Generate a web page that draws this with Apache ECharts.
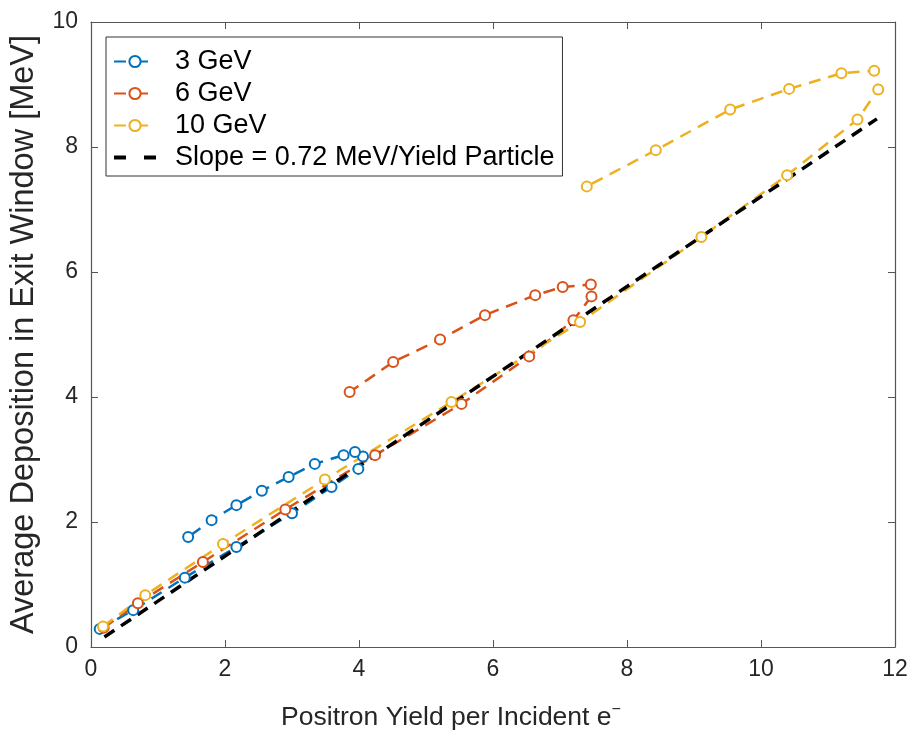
<!DOCTYPE html>
<html>
<head>
<meta charset="utf-8">
<script src="https://cdn.jsdelivr.net/npm/echarts@6.0.0/dist/echarts.min.js"></script>
<style>
  html, body { margin: 0; padding: 0; background: #fff; }
  #main { width: 913px; height: 737px; }
</style>
</head>
<body>
<div id="main"></div>
<script>
// 数据
const gev3X = [0.13, 0.63, 1.40, 2.17, 3.00, 3.59, 3.99, 4.06, 3.94, 3.77, 3.34, 2.95, 2.55, 2.17, 1.80, 1.45];
const gev3Y = [0.29, 0.59, 1.11, 1.60, 2.14, 2.56, 2.85, 3.05, 3.12, 3.07, 2.93, 2.72, 2.50, 2.27, 2.03, 1.76];
const gev6X = [0.19, 0.70, 1.67, 2.90, 4.24, 5.53, 6.54, 7.20, 7.47, 7.46, 7.04, 6.63, 5.88, 5.21, 4.51, 3.86];
const gev6Y = [0.31, 0.70, 1.36, 2.20, 3.07, 3.89, 4.65, 5.23, 5.61, 5.80, 5.76, 5.63, 5.31, 4.92, 4.56, 4.08];
const gev10X = [0.18, 0.81, 1.97, 3.49, 5.38, 7.30, 9.11, 10.39, 11.44, 11.75, 11.69, 11.20, 10.42, 9.54, 8.43, 7.40];
const gev10Y = [0.33, 0.83, 1.65, 2.68, 3.92, 5.20, 6.56, 7.55, 8.44, 8.92, 9.22, 9.18, 8.93, 8.60, 7.95, 7.37];
const slopeX = [0.20, 11.73];
const slopeY = [0.16, 8.45];
const seriesNames = ['3 GeV', '6 GeV', '10 GeV', 'Slope = 0.72 MeV/Yield Particle'];
const xTicks = { min: 0, max: 12, interval: 2 };
const yTicks = { min: 0, max: 10, interval: 2 };

const pairs = (xs, ys) => xs.map((x, i) => [x, ys[i]]);
const axisColor = '#555';
const textColor = '#262626';
const font = 'Liberation Sans, Arial, sans-serif';

const chart = echarts.init(document.getElementById('main'), null, { renderer: 'canvas' });

// 一条带圆圈的虚线
const markedLine = (name, color, data) => ({
  name: name,
  type: 'line',
  data: data,
  symbol: 'emptyCircle',
  symbolSize: 10,
  showSymbol: true,
  itemStyle: { color: color, borderWidth: 2.2 },
  lineStyle: { color: color, width: 2.5, type: [12, 8] },
  emphasis: { disabled: true },
  animation: false
});

const baseAxis = {
  axisLine: { show: true, onZero: false, lineStyle: { color: axisColor, width: 1.2 } },
  axisTick: { show: true, inside: true, length: 7, lineStyle: { color: axisColor } },
  splitLine: { show: false }
};

const option = {
  backgroundColor: '#fff',
  grid: { left: 91, right: 18, top: 22, bottom: 90 },
  legend: {
    orient: 'vertical',
    left: 106,
    top: 37,
    itemWidth: 42,
    itemHeight: 14,
    itemGap: 5,
    padding: [11, 8, 5, 6],
    borderColor: '#333',
    borderWidth: 1,
    backgroundColor: '#fff',
    textStyle: { fontSize: 27, color: '#000', fontFamily: font, padding: [0, 0, 0, 14] },
    data: [
      { name: seriesNames[0], lineStyle: { type: [12, 10] } },
      { name: seriesNames[1], lineStyle: { type: [12, 10] } },
      { name: seriesNames[2], lineStyle: { type: [12, 10] } },
      // 黑色虚线图例里不要圆点
      { name: seriesNames[3], itemStyle: { opacity: 0 }, lineStyle: { type: [12, 18], width: 4 } }
    ]
  },
  xAxis: [
    Object.assign({}, baseAxis, xTicks, {
      type: 'value',
      position: 'bottom',
      name: 'Positron Yield per Incident e{sup|\u2212}',
      nameLocation: 'middle',
      nameGap: 55,
      nameTextStyle: {
        fontSize: 26.5, color: textColor, fontFamily: font,
        padding: [0, 84, 0, 0],
        rich: { sup: { fontSize: 16, color: textColor, fontFamily: font, padding: [0, 0, 15, 0] } }
      },
      axisLabel: { fontSize: 23, color: textColor, fontFamily: font, margin: 11 }
    }),
    Object.assign({}, baseAxis, xTicks, {
      type: 'value',
      position: 'top',
      axisLabel: { show: false }
    })
  ],
  yAxis: [
    Object.assign({}, baseAxis, yTicks, {
      type: 'value',
      position: 'left',
      name: 'Average Deposition in Exit Window [MeV]',
      nameLocation: 'middle',
      nameGap: 50,
      nameTextStyle: { fontSize: 32.5, color: textColor, fontFamily: font },
      axisLabel: { fontSize: 23, color: textColor, fontFamily: font, margin: 13 }
    }),
    Object.assign({}, baseAxis, yTicks, {
      type: 'value',
      position: 'right',
      axisLabel: { show: false }
    })
  ],
  series: [
    markedLine(seriesNames[0], '#0072BD', pairs(gev3X, gev3Y)),
    markedLine(seriesNames[1], '#D95319', pairs(gev6X, gev6Y)),
    markedLine(seriesNames[2], '#EDB120', pairs(gev10X, gev10Y)),
    {
      name: seriesNames[3],
      type: 'line',
      data: pairs(slopeX, slopeY),
      symbol: 'none',
      itemStyle: { color: '#000' },
      lineStyle: { color: '#000', width: 3.5, type: [12, 8] },
      emphasis: { disabled: true },
      animation: false
    }
  ]
};

chart.setOption(option);
</script>
</body>
</html>
